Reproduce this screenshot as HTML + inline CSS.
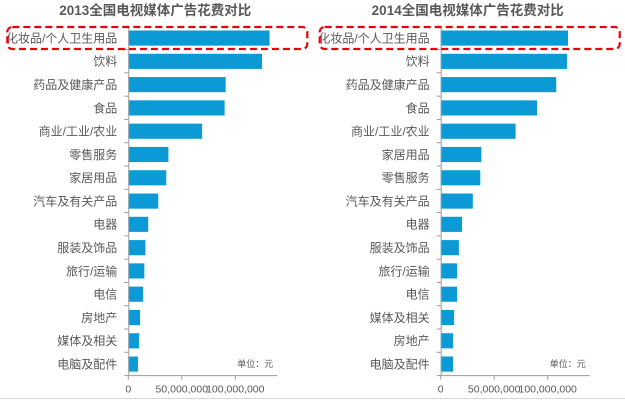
<!DOCTYPE html>
<html><head><meta charset="utf-8"><style>
body{margin:0;background:#fff;width:625px;height:400px;overflow:hidden;font-family:"Liberation Sans","Noto Sans CJK SC",sans-serif}
</style></head><body>
<svg id="svg" width="625" height="400" xmlns="http://www.w3.org/2000/svg" style="font-family:'Liberation Sans','Noto Sans CJK SC',sans-serif">
<line x1="0" y1="398.5" x2="625" y2="398.5" stroke="#d9d9d9"/>
</svg>
<script>
const cats2013 = ["化妆品/个人卫生用品","饮料","药品及健康产品","食品","商业/工业/农业","零售服务","家居用品","汽车及有关产品","电器","服装及饰品","旅行/运输","电信","房地产","媒体及相关","电脑及配件"];
const vals2013 = [132,125,91,90,69,37.5,35.5,28,18.6,16,15,13.8,11,10,9];
const cats2014 = ["化妆品/个人卫生用品","饮料","药品及健康产品","食品","商业/工业/农业","家居用品","零售服务","汽车及有关产品","电器","服装及饰品","旅行/运输","电信","媒体及相关","房地产","电脑及配件"];
const vals2014 = [119,118,108,90,70,38,37,30,20,17,15.3,15.3,12.5,11.5,11.5];
const tickVals = [0,50,100];
const tickLabels = ["0","50,000,000","100,000,000"];
const titles = ["2013全国电视媒体广告花费对比","2014全国电视媒体广告花费对比"];

const NS="http://www.w3.org/2000/svg";
const svg=document.getElementById('svg');
function mk(tag,attrs,parent){const e=document.createElementNS(NS,tag);for(const k in attrs)e.setAttribute(k,attrs[k]);(parent||svg).appendChild(e);return e;}

function drawChart(idx,cats,vals,x0,title){
  const g=mk('g',{});
  
  
  const top=26.3,bottom=375.6,pxPer50=53.5,axisEnd=x0+149;
  const band=(bottom-top)/cats.length;
  const xs=v=>x0+v*pxPer50/50;
  const ys=i=>top+i*band;
  const t=mk('text',{x:x0+27,y:15,'text-anchor':'middle','font-size':'13.5','font-weight':'bold',fill:'#595959'},g);
  t.textContent=title;
  
  
  cats.forEach((c,i)=>{
    const y=ys(i);
    const r=mk('rect',{x:xs(0),y:y+band*0.18,width:xs(vals[i])-xs(0),height:band*0.65,fill:'#0b9ad6'},g);
    
    
    const l=mk('text',{x:x0-11,y:y+band/2+4.5,'text-anchor':'end','font-size':'12',fill:'#595959'},g);
    l.textContent=c;
    
    
    mk('line',{x1:x0-4,y1:y,x2:x0,y2:y,stroke:'#9a9a9a'},g);
  });
  mk('line',{x1:x0-4,y1:bottom,x2:x0,y2:bottom,stroke:'#9a9a9a'},g);
  const ya=mk('line',{x1:x0+0.5,y1:top,x2:x0+0.5,y2:bottom,stroke:'#9a9a9a'},g);
  
  
  const xa=mk('line',{x1:x0,y1:bottom,x2:axisEnd,y2:bottom,stroke:'#9a9a9a'},g);
  
  
  tickVals.forEach((v,i)=>{
    mk('line',{x1:xs(v),y1:bottom,x2:xs(v),y2:bottom+4,stroke:'#9a9a9a'},g);
    const tl=mk('text',{x:xs(v),y:bottom+17,'text-anchor':'middle','font-size':'10.5',fill:'#595959'},g);
    tl.textContent=tickLabels[i];
    
    
  });
  const u=mk('text',{x:x0+127,y:367,'text-anchor':'middle','font-size':'9',fill:'#595959'},g);
  u.textContent='单位：元';
  
  
  const hl=mk('rect',{x:x0-121,y:27,width:300,height:22,rx:5,fill:'none',stroke:'#e8000b','stroke-width':'2.2','stroke-dasharray':'7 4'},g);
  
  
}
drawChart(0,cats2013,vals2013,128.3,titles[0]);
drawChart(1,cats2014,vals2014,440.7,titles[1]);
</script>
</body></html>
